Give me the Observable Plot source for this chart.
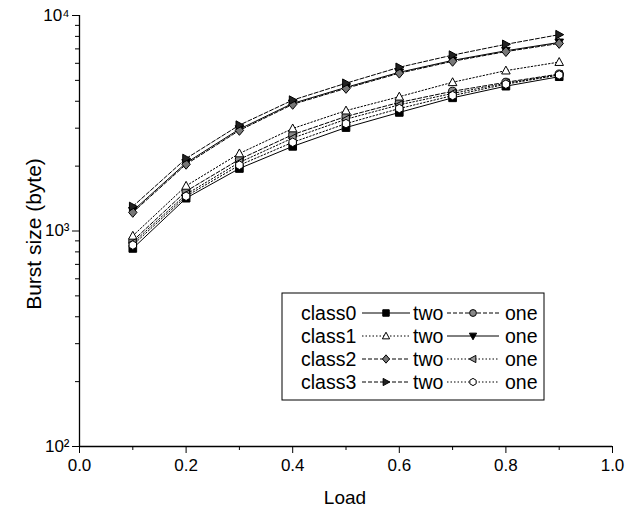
<!DOCTYPE html>
<html><head><meta charset="utf-8">
<script src="https://cdn.jsdelivr.net/npm/d3@7"></script>
<script src="https://cdn.jsdelivr.net/npm/@observablehq/plot@0.6"></script>
<style>
body{margin:0;background:#fff;font-family:Arial,"Liberation Sans",sans-serif}
#wrap{position:relative;width:633px;height:510px}
</style></head><body><div id="wrap"></div>
<script>
// ---- data ----
const loads = [0.1, 0.2, 0.3, 0.4, 0.5, 0.6, 0.7, 0.8, 0.9];
const class0Two = [830, 1420, 1950, 2470, 3020, 3550, 4150, 4700, 5200];
const class0One = [900, 1530, 2150, 2800, 3400, 3950, 4450, 4900, 5350];
const class1Two = [950, 1620, 2290, 2990, 3620, 4200, 4900, 5550, 6080];
const class1One = [1240, 2070, 2970, 3910, 4640, 5450, 6190, 6860, 7500];
const class2Two = [1220, 2040, 2930, 3870, 4590, 5400, 6130, 6800, 7420];
const class2One = [880, 1480, 2080, 2700, 3300, 3850, 4350, 4850, 5300];
const class3Two = [1300, 2170, 3100, 4050, 4850, 5750, 6550, 7350, 8150];
const class3One = [860, 1450, 2020, 2580, 3150, 3700, 4250, 4800, 5300];
const xTicks = [0.0, 0.2, 0.4, 0.6, 0.8, 1.0];
const xMinorTicks = [0.1, 0.3, 0.5, 0.7, 0.9];
const yTicks = [100, 1000, 10000];
const yTickLabels = ["10\u00b2", "10\u00b3", "10\u2074"];
const legendClasses = ["class0", "class1", "class2", "class3"];
const legendWords = ["two", "one"];
const xLabel = "Load";
const yLabel = "Burst size (byte)";

// ---- custom symbols ----
function poly(ctx, pts){ctx.moveTo(pts[0][0],pts[0][1]);for(let i=1;i<pts.length;i++)ctx.lineTo(pts[i][0],pts[i][1]);ctx.closePath();}
const R = s => Math.sqrt(s/Math.PI);
const sym = {
  square:{draw(c,s){const r=R(s)*0.85;poly(c,[[-r,-r],[r,-r],[r,r],[-r,r]]);}},
  circle:{draw(c,s){const r=R(s)*0.9;c.moveTo(r,0);c.arc(0,0,r,0,2*Math.PI);}},
  up:{draw(c,s){const r=R(s);poly(c,[[0,-r],[r*0.95,r*0.75],[-r*0.95,r*0.75]]);}},
  down:{draw(c,s){const r=R(s);poly(c,[[0,r],[r*0.95,-r*0.75],[-r*0.95,-r*0.75]]);}},
  left:{draw(c,s){const r=R(s);poly(c,[[-r,0],[r*0.75,-r*0.95],[r*0.75,r*0.95]]);}},
  right:{draw(c,s){const r=R(s);poly(c,[[r,0],[-r*0.75,-r*0.95],[-r*0.75,r*0.95]]);}},
  diamond:{draw(c,s){const r=R(s)*1.1;poly(c,[[0,-r],[r*0.85,0],[0,r],[-r*0.85,0]]);}},
  hex:{draw(c,s){const r=R(s)*0.95;const p=[];for(let i=0;i<6;i++){const a=Math.PI/6+i*Math.PI/3;p.push([r*Math.cos(a),r*Math.sin(a)]);}poly(c,p);}}
};

const series = [
  {name:"class0 two", values:class0Two, symbol:sym.square, fill:"#000", dash:null},
  {name:"class0 one", values:class0One, symbol:sym.circle, fill:"#888", dash:"4,2"},
  {name:"class1 two", values:class1Two, symbol:sym.up, fill:"#fff", dash:"1.5,2"},
  {name:"class1 one", values:class1One, symbol:sym.down, fill:"#000", dash:null},
  {name:"class2 two", values:class2Two, symbol:sym.diamond, fill:"#777", dash:"4,2"},
  {name:"class2 one", values:class2One, symbol:sym.left, fill:"#999", dash:"1.5,2"},
  {name:"class3 two", values:class3Two, symbol:sym.right, fill:"#222", dash:"4,2"},
  {name:"class3 one", values:class3One, symbol:sym.hex, fill:"#fff", dash:"1.5,2"}
];

const marks = [
  Plot.axisX({ticks: xTicks, tickSize: 7, tickPadding: 5, tickFormat: d3.format(".1f"), fontSize: 17, label: null}),
  Plot.axisX({ticks: xMinorTicks, tickSize: 4, tickFormat: () => "", label: null}),
  Plot.axisY({ticks: yTicks, tickSize: 7, tickPadding: 3, fontSize: 17,
    tickFormat: (d) => yTickLabels[yTicks.indexOf(d)], label: null}),
  Plot.axisY({ticks: d3.range(2,10).flatMap(k => [k*100, k*1000]), tickSize: 4, tickFormat: () => "", label: null}),
  Plot.ruleX([0], {strokeWidth: 1.3}),
  Plot.ruleY([100], {strokeWidth: 1.3})
];
for (const s of series) {
  const data = loads.map((x,i) => ({x, y: s.values[i]}));
  marks.push(Plot.line(data, {x:"x", y:"y", stroke:"#000", strokeWidth:1, strokeDasharray: s.dash || undefined}));
}
for (const s of series) {
  const data = loads.map((x,i) => ({x, y: s.values[i]}));
  marks.push(Plot.dot(data, {x:"x", y:"y", symbol: s.symbol, r: 4.5, fill: s.fill, stroke:"#000", strokeWidth:1}));
}

const chart = Plot.plot({
  width: 633, height: 510,
  marginLeft: 79, marginRight: 21, marginTop: 15, marginBottom: 64,
  style: {fontFamily: "Arial, 'Liberation Sans', sans-serif", fontSize: "17px", color: "#000", background: "#fff"},
  x: {domain: [0, 1]},
  y: {type: "log", domain: [100, 10000]},
  marks
});
document.getElementById("wrap").appendChild(chart);

const svg = d3.select(chart);
const FF = "Arial, 'Liberation Sans', sans-serif";
// axis titles
svg.append("text").attr("x", 345).attr("y", 504).attr("text-anchor", "middle")
  .attr("font-family", FF).attr("font-size", 19).attr("fill", "#000").text(xLabel);
svg.append("text").attr("transform", "translate(41,234) rotate(-90)").attr("text-anchor", "middle")
  .attr("font-family", FF).attr("font-size", 21).attr("fill", "#000").text(yLabel);

// ---- legend ----
const lg = svg.append("g").attr("font-family", FF).attr("font-size", 19.5).attr("fill", "#000")
  .attr("text-anchor", "start");
lg.append("rect").attr("x", 282).attr("y", 293).attr("width", 262).attr("height", 107)
  .attr("fill", "#fff").attr("stroke", "#000").attr("stroke-width", 1);
const order = [[0,1],[2,3],[4,5],[6,7]];
order.forEach((pair, i) => {
  const yc = 313 + 23 * i;
  lg.append("text").attr("x", 301).attr("y", yc + 7).text(legendClasses[i]);
  const cols = [[362, 410, 413], [447, 499, 505]];
  pair.forEach((si, j) => {
    const s = series[si];
    const [x1, x2, tx] = cols[j];
    lg.append("line").attr("x1", x1).attr("x2", x2).attr("y1", yc).attr("y2", yc)
      .attr("stroke", "#000").attr("stroke-width", 1).attr("stroke-dasharray", s.dash);
    const p = d3.path(); s.symbol.draw(p, 3.8*3.8*Math.PI);
    lg.append("path").attr("d", p.toString()).attr("transform", `translate(${(x1+x2)/2},${yc})`)
      .attr("fill", s.fill).attr("stroke", "#000");
    lg.append("text").attr("x", tx).attr("y", yc + 7).text(legendWords[j]);
  });
});
</script></body></html>
